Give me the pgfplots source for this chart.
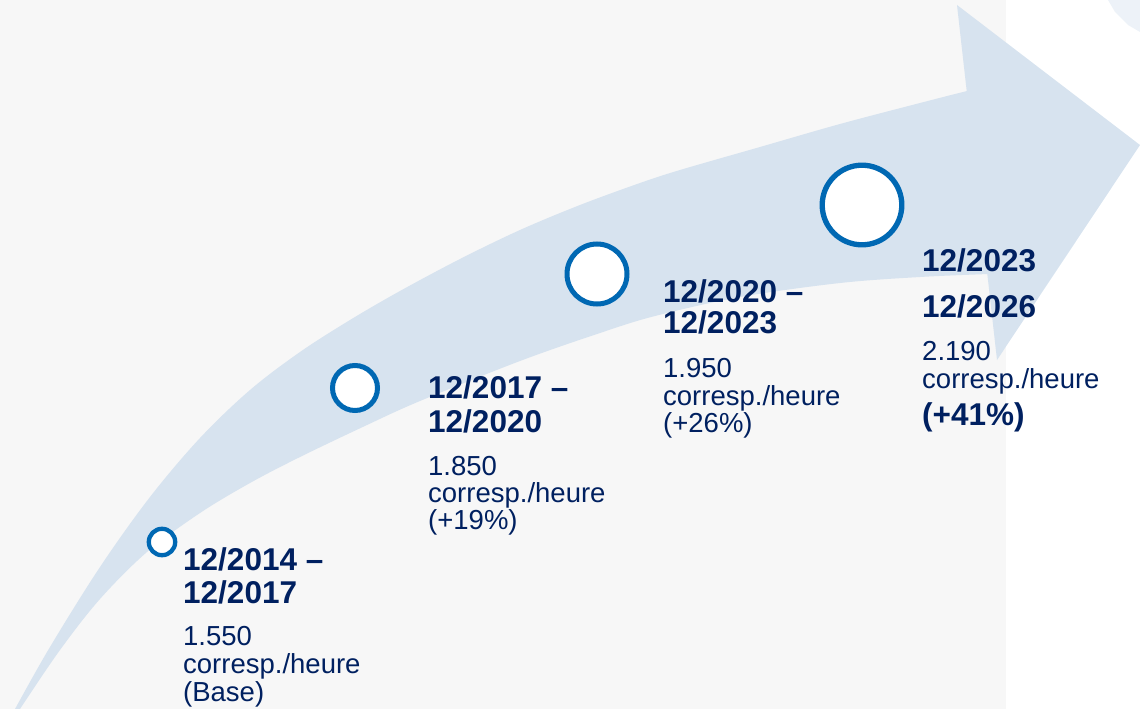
\documentclass[border=0pt]{standalone}
\usepackage{fontspec}
\setmainfont{Liberation Sans}
\usepackage{pgfplots}
\pgfplotsset{compat=1.18}
\definecolor{bggray}{HTML}{F7F7F7}
\definecolor{arrowblue}{HTML}{D7E3EF}
\definecolor{circblue}{RGB}{0,104,179}
\definecolor{navy}{RGB}{0,32,96}
\newcommand{\hb}{\fontsize{31.5}{34}\selectfont\bfseries}
\newcommand{\rg}{\fontsize{27.5}{30}\selectfont}
\begin{document}
\begin{tikzpicture}
\begin{axis}[
  scale only axis, width=1140pt, height=709pt,
  xmin=0, xmax=1140, ymin=0, ymax=709, y dir=reverse,
  hide axis, clip=true,
]
% background
\addplot[fill=bggray, draw=none] coordinates {(0,0) (1006,0) (1006,709) (0,709)} -- cycle;
% faint corner shape
\addplot[fill=arrowblue, draw=none, opacity=0.45] coordinates {(1108,0) (1140,0) (1140,32) (1128,25) (1115,12)} -- cycle;
% arrow body
\addplot[fill=arrowblue, draw=none, smooth, tension=0.55] coordinates {
  (0,737) (15,709) (50,647) (100,567) (150,497) (200,438) (250,390) (300,352)
  (350,320) (400,291) (460,259) (520,230) (580,205) (640,183) (680,170) (760,147)
  (840,124) (920,103) (967,91) (1000,83)
  (1015,273) (988,274) (920,277) (840,283) (740,297) (655,316) (600,333) (520,361)
  (420,401) (367,425) (300,457) (250,483) (200,513) (147,552) (100,599) (60,650)
  (20,709) (5,733)} -- cycle;
% arrow head
\addplot[fill=arrowblue, draw=none] coordinates {(957,5) (1140,145) (997,360)} -- cycle;
% milestones
\addplot[only marks, mark=*, mark size=13.2pt, mark options={fill=white, draw=circblue, line width=4.3pt}] coordinates {(162,542)};
\addplot[only marks, mark=*, mark size=22.5pt, mark options={fill=white, draw=circblue, line width=5pt}] coordinates {(355,388)};
\addplot[only marks, mark=*, mark size=30pt, mark options={fill=white, draw=circblue, line width=5pt}] coordinates {(597,274)};
\addplot[only marks, mark=*, mark size=39.8pt, mark options={fill=white, draw=circblue, line width=5.3pt}] coordinates {(862,205)};
% texts group 1
\node[anchor=base west, text=navy, font=\hb, inner sep=0pt] at (axis cs:183,570) {12/2014 –};
\node[anchor=base west, text=navy, font=\hb, inner sep=0pt] at (axis cs:183,603) {12/2017};
\node[anchor=base west, text=navy, font=\rg, inner sep=0pt] at (axis cs:183,645) {1.550};
\node[anchor=base west, text=navy, font=\rg, inner sep=0pt] at (axis cs:183,673) {corresp./heure};
\node[anchor=base west, text=navy, font=\rg, inner sep=0pt] at (axis cs:183,701) {(Base)};
% group 2
\node[anchor=base west, text=navy, font=\hb, inner sep=0pt] at (axis cs:428,398) {12/2017 –};
\node[anchor=base west, text=navy, font=\hb, inner sep=0pt] at (axis cs:428,432) {12/2020};
\node[anchor=base west, text=navy, font=\rg, inner sep=0pt] at (axis cs:428,475) {1.850};
\node[anchor=base west, text=navy, font=\rg, inner sep=0pt] at (axis cs:428,502) {corresp./heure};
\node[anchor=base west, text=navy, font=\rg, inner sep=0pt] at (axis cs:428,529) {(+19\%)};
% group 3
\node[anchor=base west, text=navy, font=\hb, inner sep=0pt] at (axis cs:663,302) {12/2020 –};
\node[anchor=base west, text=navy, font=\hb, inner sep=0pt] at (axis cs:663,333) {12/2023};
\node[anchor=base west, text=navy, font=\rg, inner sep=0pt] at (axis cs:663,377) {1.950};
\node[anchor=base west, text=navy, font=\rg, inner sep=0pt] at (axis cs:663,405) {corresp./heure};
\node[anchor=base west, text=navy, font=\rg, inner sep=0pt] at (axis cs:663,432) {(+26\%)};
% group 4
\node[anchor=base west, text=navy, font=\hb, inner sep=0pt] at (axis cs:922,271) {12/2023};
\node[anchor=base west, text=navy, font=\hb, inner sep=0pt] at (axis cs:922,317) {12/2026};
\node[anchor=base west, text=navy, font=\rg, inner sep=0pt] at (axis cs:922,360) {2.190};
\node[anchor=base west, text=navy, font=\rg, inner sep=0pt] at (axis cs:922,388) {corresp./heure};
\node[anchor=base west, text=navy, font=\hb, inner sep=0pt] at (axis cs:922,425) {(+41\%)};
\end{axis}
\end{tikzpicture}
\end{document}
